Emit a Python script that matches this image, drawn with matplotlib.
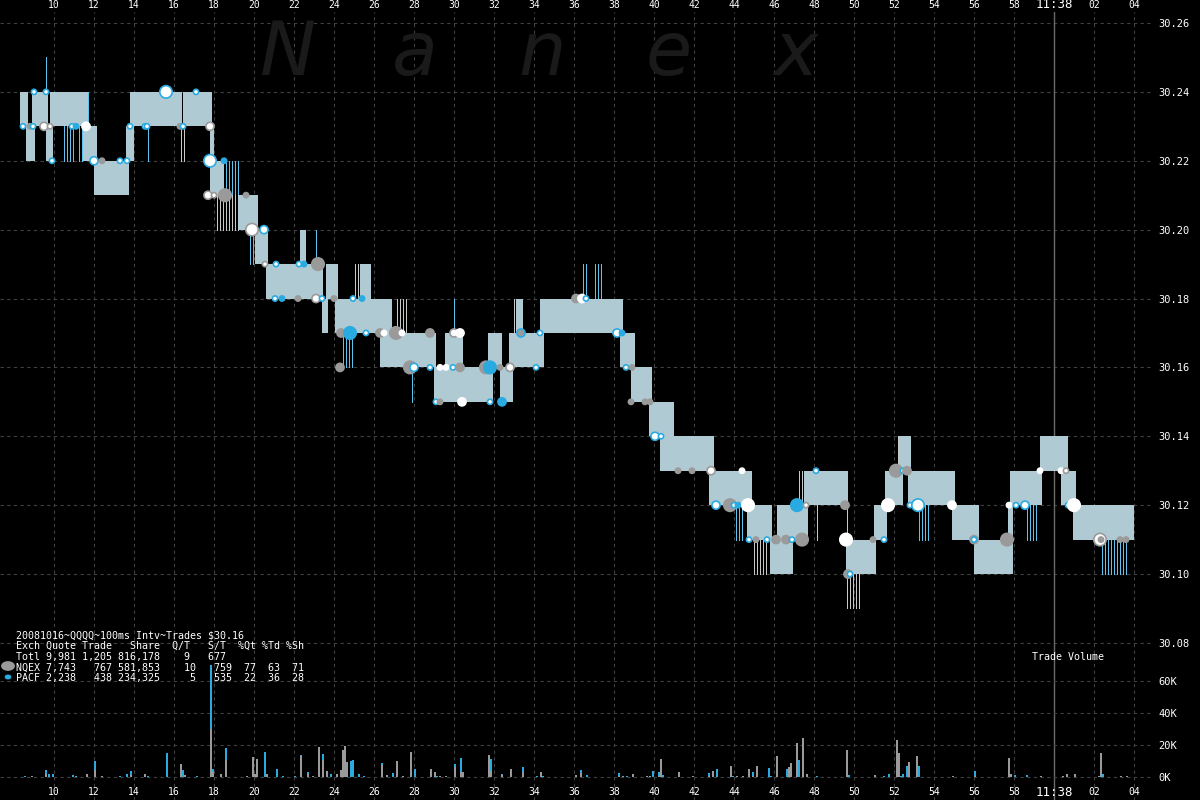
import matplotlib
matplotlib.use('Agg')
import matplotlib.pyplot as plt
import numpy as np
from matplotlib.transforms import blended_transform_factory

# ---------------- data ----------------
# time axis: seconds after 11:37:00
x_tick_times = [10, 12, 14, 16, 18, 20, 22, 24, 26, 28, 30, 32, 34, 36, 38, 40,
                42, 44, 46, 48, 50, 52, 54, 56, 58, 60, 62, 64]
x_tick_labels = ['10', '12', '14', '16', '18', '20', '22', '24', '26', '28', '30',
                 '32', '34', '36', '38', '40', '42', '44', '46', '48', '50', '52',
                 '54', '56', '58', '11:38', '02', '04']
price_ticks = [30.08, 30.10, 30.12, 30.14, 30.16, 30.18, 30.20, 30.22, 30.24, 30.26]
vol_ticks = [0, 20000, 40000, 60000]
vol_tick_labels = ['0K', '20K', '40K', '60K']

# quote (bid/ask) boxes
q_start = [8.30, 8.60, 8.90, 9.60, 9.80, 11.45, 12.00, 13.60, 13.80, 16.45, 17.80, 17.80,
           19.20, 20.05, 20.60, 22.30, 23.40, 23.60, 24.05, 25.30, 26.30, 29.00, 29.55,
           30.10, 31.70, 32.30, 32.75, 33.10, 34.30, 38.30, 38.85, 39.75, 40.30, 42.75,
           44.65, 45.80, 46.15, 47.50, 49.60, 51.00, 51.55, 52.25, 52.70, 54.90, 56.00,
           57.70, 57.80, 59.30, 60.35, 60.95]
q_end = [8.70, 9.05, 9.70, 9.95, 11.70, 12.15, 13.75, 14.00, 16.40, 17.90, 18.00, 18.50,
         20.20, 20.70, 23.45, 22.60, 23.70, 24.20, 26.90, 25.85, 29.10, 30.45, 30.45,
         31.95, 32.40, 32.95, 34.50, 33.45, 38.45, 39.05, 39.90, 41.00, 43.00, 44.90,
         45.90, 46.95, 47.70, 49.70, 51.10, 51.65, 52.45, 52.85, 55.05, 56.25, 57.95,
         57.95, 59.40, 60.70, 61.10, 64.00]
q_bid = [30.23, 30.22, 30.23, 30.22, 30.23, 30.22, 30.21, 30.22, 30.23, 30.23, 30.22, 30.21,
         30.20, 30.19, 30.18, 30.19, 30.17, 30.18, 30.17, 30.18, 30.16, 30.15, 30.16,
         30.15, 30.16, 30.15, 30.16, 30.17, 30.17, 30.16, 30.15, 30.14, 30.13, 30.12,
         30.11, 30.10, 30.11, 30.12, 30.10, 30.11, 30.12, 30.13, 30.12, 30.11, 30.10,
         30.11, 30.12, 30.13, 30.12, 30.11]
q_ask = [round(b + 0.01, 2) for b in q_bid]

# flickering quotes (thin lines)
f_start = [9.45, 10.45, 11.15, 11.70, 14.60, 16.30, 18.50, 18.00, 19.70, 23.10, 24.90,
           24.30, 27.10, 27.90, 29.95, 32.95, 36.30, 36.95, 43.95, 44.90, 47.15, 48.15,
           49.50, 49.60, 52.10, 53.10, 58.55, 62.25]
f_end = [9.60, 11.00, 11.45, 11.80, 14.70, 16.50, 19.30, 19.20, 20.00, 23.20, 25.30,
         24.90, 27.60, 28.00, 30.05, 33.10, 36.60, 37.40, 44.40, 45.60, 47.50, 48.25,
         49.75, 50.35, 52.25, 53.70, 59.10, 63.60]
f_low = [30.24, 30.22, 30.22, 30.23, 30.22, 30.22, 30.21, 30.20, 30.19, 30.19, 30.18,
         30.16, 30.17, 30.15, 30.17, 30.17, 30.18, 30.18, 30.11, 30.10, 30.12, 30.11,
         30.11, 30.09, 30.13, 30.11, 30.11, 30.10]
f_exch = ['P', 'P', 'P', 'P', 'P', 'N', 'P', 'N', 'P', 'P', 'N', 'P', 'N', 'P', 'P', 'N',
          'P', 'P', 'P', 'N', 'N', 'N', 'N', 'N', 'N', 'P', 'P', 'P']

# trades: time, price, face, edge, size class
tr_t = [8.45, 8.80, 8.95, 9.00, 9.60, 9.50, 9.80, 9.90, 10.90, 11.10, 11.60, 12.00, 12.40,
        13.30, 13.65, 13.80, 14.55, 14.65, 15.60, 16.30, 16.45, 17.10, 17.80, 17.80,
        18.50, 17.70, 18.00, 18.55, 19.60, 19.90, 20.50, 20.55, 21.10, 22.25, 22.50,
        23.20, 21.05, 21.40, 22.20, 23.10, 23.40, 24.00, 24.95, 25.40, 24.35, 24.80,
        25.60, 26.30, 26.50, 27.10, 27.40, 28.80, 30.00, 30.30, 24.30, 27.80, 28.00,
        28.80, 29.30, 29.60, 29.95, 30.30, 31.60, 31.80, 32.30, 32.80, 34.10, 33.35,
        34.30, 29.10, 29.30, 30.40, 31.80, 32.40, 36.10, 36.40, 36.60, 38.15, 38.40,
        38.60, 38.90, 38.85, 39.55, 39.80, 40.05, 40.35, 41.20, 41.90, 42.85, 44.40,
        43.10, 43.80, 44.00, 44.20, 44.70, 44.75, 45.10, 45.65, 46.10, 46.60, 46.90,
        47.40, 47.15, 47.60, 48.10, 49.55, 49.60, 49.70, 49.80, 50.95, 51.50, 51.70,
        52.10, 52.45, 52.65, 52.80, 53.20, 54.90, 56.00, 56.00, 57.65, 57.75, 58.10,
        58.55, 59.30, 60.35, 60.60, 60.70, 61.00, 62.30, 62.35, 63.30, 63.60]
tr_p = [30.23, 30.23, 30.23, 30.24, 30.24, 30.23, 30.23, 30.22, 30.23, 30.23, 30.23, 30.22,
        30.22, 30.22, 30.22, 30.23, 30.23, 30.23, 30.24, 30.23, 30.23, 30.24, 30.23, 30.22,
        30.22, 30.21, 30.21, 30.21, 30.21, 30.20, 30.20, 30.19, 30.19, 30.19, 30.19,
        30.19, 30.18, 30.18, 30.18, 30.18, 30.18, 30.18, 30.18, 30.18, 30.17, 30.17,
        30.17, 30.17, 30.17, 30.17, 30.17, 30.17, 30.17, 30.17, 30.16, 30.16, 30.16,
        30.16, 30.16, 30.16, 30.16, 30.16, 30.16, 30.16, 30.16, 30.16, 30.16, 30.17,
        30.17, 30.15, 30.15, 30.15, 30.15, 30.15, 30.18, 30.18, 30.18, 30.17, 30.17,
        30.16, 30.16, 30.15, 30.15, 30.15, 30.14, 30.14, 30.13, 30.13, 30.13, 30.13,
        30.12, 30.12, 30.12, 30.12, 30.12, 30.11, 30.11, 30.11, 30.11, 30.11, 30.11,
        30.11, 30.12, 30.12, 30.13, 30.12, 30.11, 30.10, 30.10, 30.11, 30.11, 30.12,
        30.13, 30.13, 30.13, 30.12, 30.12, 30.12, 30.11, 30.11, 30.11, 30.12, 30.12,
        30.12, 30.13, 30.13, 30.13, 30.12, 30.12, 30.11, 30.11, 30.11, 30.11]
tr_face = ['w', 'g', 'w', 'w', 'w', 'w', 'w', 'w', 'w', 'b', 'w', 'w', 'g',
           'w', 'w', 'w', 'w', 'w', 'w', 'g', 'w', 'w', 'w', 'w',
           'b', 'w', 'w', 'g', 'g', 'w', 'w', 'w', 'w', 'w', 'b',
           'g', 'w', 'b', 'g', 'w', 'w', 'g', 'w', 'b', 'g', 'b',
           'w', 'g', 'w', 'g', 'w', 'g', 'w', 'w', 'g', 'g', 'w',
           'w', 'w', 'w', 'w', 'g', 'g', 'b', 'g', 'w', 'w', 'g',
           'w', 'w', 'g', 'w', 'w', 'b', 'g', 'w', 'w', 'w', 'b',
           'w', 'g', 'g', 'g', 'g', 'w', 'w', 'g', 'g', 'w', 'w',
           'w', 'g', 'w', 'b', 'w', 'w', 'g', 'w', 'g', 'g', 'w',
           'g', 'b', 'w', 'w', 'g', 'w', 'g', 'w', 'g', 'w', 'w',
           'g', 'w', 'g', 'w', 'w', 'w', 'g', 'w', 'g', 'w', 'w',
           'w', 'w', 'w', 'w', 'w', 'w', 'w', 'g', 'g', 'g']
tr_edge = ['b', 'g', 'b', 'b', 'b', 'g', 'g', 'b', 'b', 'b', 'w', 'b', 'g',
           'b', 'b', 'b', 'b', 'b', 'b', 'g', 'b', 'b', 'g', 'b',
           'b', 'g', 'g', 'g', 'g', 'g', 'b', 'g', 'b', 'b', 'b',
           'g', 'b', 'b', 'g', 'g', 'b', 'g', 'b', 'b', 'g', 'b',
           'b', 'g', 'w', 'g', 'w', 'g', 'g', 'w', 'g', 'g', 'b',
           'b', 'w', 'w', 'b', 'g', 'g', 'b', 'g', 'g', 'b', 'b',
           'b', 'b', 'g', 'w', 'b', 'b', 'g', 'w', 'b', 'b', 'b',
           'b', 'g', 'g', 'g', 'g', 'b', 'b', 'g', 'g', 'g', 'w',
           'b', 'g', 'b', 'b', 'w', 'b', 'g', 'b', 'g', 'g', 'b',
           'g', 'b', 'g', 'b', 'g', 'w', 'g', 'b', 'g', 'b', 'w',
           'g', 'b', 'g', 'b', 'b', 'w', 'g', 'b', 'g', 'w', 'b',
           'b', 'w', 'w', 'g', 'b', 'w', 'g', 'g', 'g', 'g']
tr_size = [1, 1, 1, 1, 1, 2, 1, 1, 1, 1, 2, 2, 1,
           1, 1, 1, 1, 1, 3, 1, 1, 1, 2, 3,
           1, 2, 1, 3, 1, 3, 2, 1, 1, 1, 1,
           3, 1, 1, 1, 2, 1, 1, 1, 1, 2, 3,
           1, 2, 1, 3, 1, 2, 2, 2, 2, 3, 2,
           1, 1, 1, 1, 2, 3, 3, 1, 2, 1, 2,
           1, 1, 1, 2, 1, 2, 2, 2, 1, 2, 1,
           1, 1, 1, 1, 1, 2, 1, 1, 1, 2, 1,
           2, 3, 1, 1, 3, 1, 1, 1, 2, 2, 1,
           3, 3, 1, 1, 2, 3, 2, 1, 1, 1, 3,
           3, 1, 2, 1, 3, 2, 2, 1, 3, 1, 1,
           2, 1, 1, 1, 1, 3, 3, 1, 1, 1]

# trade volume per 100ms interval (shares)
vol_t = [8.55, 8.90, 9.60, 9.75, 9.95, 10.95, 11.10, 11.65, 12.05, 12.40, 13.30, 13.65,
         13.85, 14.55, 14.70, 15.65, 16.35, 16.45, 16.55, 17.15, 17.85, 17.95, 18.35,
         18.60, 19.65, 19.95, 20.05, 20.15, 20.55, 20.65, 21.15, 21.45, 22.05, 22.35,
         22.70, 22.95, 23.25, 23.45, 23.65, 23.85, 24.15, 24.35, 24.45, 24.55, 24.65,
         24.85, 24.95, 25.25, 25.50, 26.40, 26.65, 26.95, 27.15, 27.45, 27.85, 28.05,
         28.85, 29.05, 29.15, 29.30, 29.60, 30.05, 30.35, 30.45, 31.75, 31.85, 32.40,
         32.85, 33.45, 34.15, 34.35, 34.45, 36.10, 36.35, 36.65, 38.25, 38.45, 38.65,
         38.95, 39.65, 39.80, 39.95, 40.25, 40.35, 40.45, 41.25, 41.95, 42.75, 42.95,
         43.15, 43.85, 43.95, 44.15, 44.45, 44.75, 44.95, 45.15, 45.75, 45.85, 46.15,
         46.65, 46.75, 46.85, 47.15, 47.25, 47.45, 47.65, 48.15, 49.65, 49.75, 51.05,
         51.50, 51.75, 52.15, 52.25, 52.35, 52.45, 52.65, 52.75, 53.15, 53.25, 54.95,
         56.05, 57.75, 57.85, 58.05, 58.65, 59.35, 60.45, 60.65, 61.05, 62.25, 62.35,
         62.45, 63.35, 63.65]
vol_nqex = [0, 500, 1500, 0, 0, 0, 0, 2000, 4200, 400, 0, 0,
            1000, 1700, 0, 0, 7900, 0, 1000, 0, 30000, 3000, 1700,
            10400, 500, 12500, 1700, 10800, 0, 1700, 0, 0, 0, 13000,
            1500, 500, 18500, 10400, 3500, 0, 1700, 4200, 16700, 19200, 8900,
            0, 0, 0, 0, 7500, 1000, 0, 9800, 500, 15400, 0,
            4600, 2900, 0, 500, 500, 6000, 3000, 2900, 13300, 3500, 800,
            4600, 3000, 0, 2900, 0, 800, 2500, 0, 500, 500, 0,
            2000, 300, 500, 0, 500, 10800, 0, 2900, 500, 500, 3500,
            0, 6700, 0, 300, 300, 4600, 500, 6700, 0, 0, 12900,
            0, 5800, 8300, 20800, 0, 24500, 2000, 0, 16400, 0, 1000,
            0, 0, 22700, 14600, 0, 0, 0, 9000, 12700, 0, 500,
            500, 11400, 2000, 0, 0, 500, 500, 1500, 2000, 300, 14600,
            0, 300, 300]
vol_pacf = [500, 0, 2700, 1700, 1700, 1000, 500, 0, 5600, 0, 400, 1700,
            2500, 0, 700, 15000, 0, 4200, 0, 700, 45000, 2000, 0,
            7300, 0, 0, 0, 0, 15400, 0, 4800, 500, 300, 500,
            1500, 0, 0, 3800, 0, 2000, 0, 0, 0, 0, 0,
            9800, 10400, 1700, 500, 800, 0, 2500, 0, 0, 0, 4600,
            0, 0, 500, 0, 0, 2000, 9000, 0, 0, 7300, 800,
            0, 3000, 500, 0, 500, 0, 1500, 800, 2000, 0, 500,
            0, 0, 0, 3300, 2500, 0, 1200, 0, 0, 2000, 0,
            4600, 0, 500, 300, 0, 0, 2500, 0, 5200, 500, 0,
            4600, 0, 0, 0, 10200, 0, 0, 500, 0, 1200, 0,
            500, 2000, 0, 0, 500, 2000, 7000, 0, 0, 6500, 0,
            3300, 0, 0, 1200, 800, 0, 0, 300, 0, 0, 0,
            2000, 0, 0]

legend_lines = [
    "20081016~QQQQ~100ms Intv~Trades $30.16",
    "Exch Quote Trade   Share  Q/T   S/T  %Qt %Td %Sh",
    "Totl 9,981 1,205 816,178    9   677",
    "NQEX 7,743   767 581,853    10   759  77  63  71",
    "PACF 2,238   438 234,325     5   535  22  36  28",
]
watermark = ['N', 'a', 'n', 'e', 'x']

# ---------------- style ----------------
BG = 'black'
GRID = '#404040'
BLUE = '#29abe2'
GRAY = '#9a9a9a'
BOX = '#b0cad3'
cmap = {'w': 'white', 'g': GRAY, 'b': BLUE}
size_map = {1: 14, 2: 34, 3: 80}
MONO = 'DejaVu Sans Mono'
X0, X1 = 7.3, 64.95          # visible time range
flicker_grid = np.arange(X0 + 0.025, X1, 0.15)

fig = plt.figure(figsize=(12, 8), dpi=100, facecolor=BG)

# price panel (pixel rows 12..800, columns 0..1153)
ax = fig.add_axes([0, 0, 1153 / 1200, 788 / 800])
ax.set_facecolor(BG)
ax.set_xlim(X0, X1)
ax.set_ylim(30.26 - 777 / 3444, 30.26 + 11 / 3444)
for s in ax.spines.values():
    s.set_visible(False)
ax.set_xticks(x_tick_times)
ax.set_yticks(price_ticks)
ax.set_xticklabels([])
ax.yaxis.tick_right()
ax.set_yticklabels([f'{p:.2f}' for p in price_ticks], color='white',
                   fontsize=7.5, family=MONO)
ax.tick_params(axis='both', length=0)
ax.tick_params(axis='y', pad=4)
ax.grid(True, color=GRID, linestyle=(0, (3, 3)), linewidth=0.8)
ax.set_axisbelow(True)

# watermark
for i, ch in enumerate(watermark):
    fig.text((288 + 127 * i) / 1200, 1 - 75 / 800, ch, fontsize=54, style='italic',
             color='#1a1a1a', ha='center', va='baseline', zorder=0)

# quote boxes
ax.bar(q_start, np.subtract(q_ask, q_bid), width=np.subtract(q_end, q_start),
       bottom=q_bid, align='edge', color=BOX, linewidth=0, zorder=2)

# flickering quote lines
for t0, t1, lo, ex in zip(f_start, f_end, f_low, f_exch):
    xs = flicker_grid[(flicker_grid >= t0) & (flicker_grid <= t1)]
    if len(xs) == 0:
        xs = np.array([t0])
    col = '#5cc4ec' if ex == 'P' else '#c8c8c8'
    ax.vlines(xs, lo, lo + 0.01, colors=col, linewidth=0.72, zorder=1.9,
              antialiased=False)

# 11:38 line
ax.axvline(60, color='#6a6a6a', linewidth=1.0, zorder=1.5)

# trades
ax.scatter(tr_t, tr_p, s=[size_map[k] for k in tr_size],
           c=[cmap[f] for f in tr_face], edgecolors=[cmap[e] for e in tr_edge],
           linewidths=1.2, zorder=5)

# x tick labels top and bottom
trans = blended_transform_factory(ax.transData, fig.transFigure)
for t, lab in zip(x_tick_times, x_tick_labels):
    fs = 9 if ':' in lab else 7
    ax.text(t, 1 - 5 / 800, lab, transform=trans, color='white', fontsize=fs,
            family=MONO, ha='center', va='center')
    ax.text(t, 1 - 792 / 800, lab, transform=trans, color='white', fontsize=fs,
            family=MONO, ha='center', va='center')

# volume panel (pixel rows 665..785)
vax = fig.add_axes([0, 15 / 800, 1153 / 1200, 120 / 800])
vax.set_facecolor('none')
vax.set_xlim(X0, X1)
vax.set_ylim(-(785 - 776.7) / 32 * 20000, (776.7 - 665) / 32 * 20000)
for s in vax.spines.values():
    s.set_visible(False)
vax.set_xticks([])
vax.set_yticks(vol_ticks)
vax.yaxis.tick_right()
vax.set_yticklabels(vol_tick_labels, color='white', fontsize=7.5, family=MONO)
vax.tick_params(axis='y', length=0, pad=4)
vax.grid(True, axis='y', color=GRID, linestyle=(0, (3, 3)), linewidth=0.8)
vax.set_axisbelow(True)
vax.bar(vol_t, vol_nqex, width=0.09, color=GRAY, linewidth=0, zorder=3)
vax.bar(vol_t, vol_pacf, width=0.09, bottom=vol_nqex, color=BLUE, linewidth=0, zorder=3)

fig.text(1032 / 1200, 1 - 657 / 800, 'Trade Volume', color='white', fontsize=7.2,
         family=MONO, ha='left', va='center')

# legend / stats text
row_y = [636, 646, 657, 668, 678]
for line, y in zip(legend_lines, row_y):
    fig.text(16 / 1200, 1 - y / 800, line, color='white', fontsize=7.2, family=MONO,
             ha='left', va='center', zorder=10)
fig.patches.append(matplotlib.patches.Circle((8 / 1200, 1 - 666 / 800), 0.0052,
                   transform=fig.transFigure, color=GRAY, zorder=10))
fig.patches.append(matplotlib.patches.Circle((8 / 1200, 1 - 677 / 800), 0.0022,
                   transform=fig.transFigure, color=BLUE, zorder=10))

fig.savefig('out.png', dpi=100, facecolor=BG)
